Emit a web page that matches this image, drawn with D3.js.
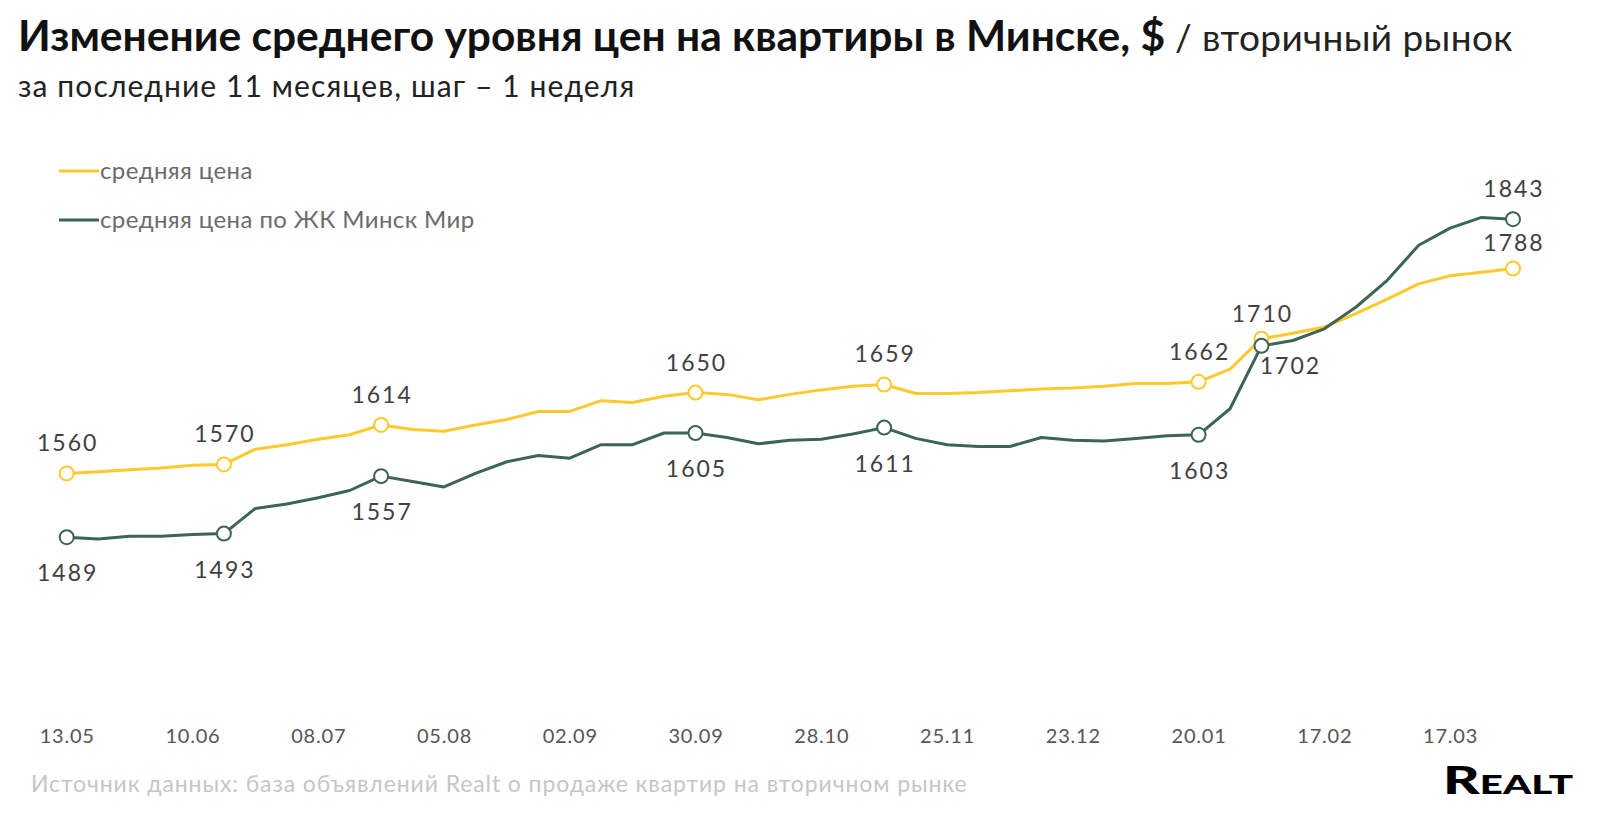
<!DOCTYPE html>
<html>
<head>
<meta charset="utf-8">
<script src="https://cdn.jsdelivr.net/npm/d3@7"></script>
<style>
  body { margin: 0; background: #fff; }
  text { font-family: Lato, "Noto Sans", sans-serif; }
</style>
</head>
<body>
<div id="chart"></div>
<script>
// weekly data, first week starts 13.05
const startDate = new Date(2024, 4, 13);
const weekCount = 47;

const avgPrice = [1560, 1562, 1564, 1566, 1569, 1570, 1587, 1592, 1598, 1603,
  1614, 1609, 1607, 1614, 1620, 1629, 1629, 1641, 1639, 1646,
  1650, 1648, 1642, 1648, 1653, 1657, 1659, 1649, 1649, 1650,
  1652, 1654, 1655, 1657, 1660, 1660, 1662, 1676, 1710, 1716,
  1723, 1738, 1754, 1771, 1780, 1784, 1788];

const minskMir = [1489, 1487, 1490, 1490, 1492, 1493, 1521, 1526, 1533, 1541,
  1557, 1551, 1545, 1560, 1573, 1580, 1577, 1592, 1592, 1605,
  1605, 1600, 1593, 1597, 1598, 1604, 1611, 1599, 1592, 1590,
  1590, 1600, 1597, 1596, 1599, 1602, 1603, 1632, 1702, 1708,
  1721, 1745, 1775, 1814, 1833, 1845, 1843];

// weeks that get a marker + value label
const markedWeeks = [0, 5, 10, 20, 26, 36, 38, 46];

const seriesNames = ["средняя цена", "средняя цена по ЖК Минск Мир"];

const w = 1607;
const h = 817;

const colors = {avg: "#fec92d", mir: "#3c6552"};

const dates = d3.range(weekCount).map(i => d3.timeDay.offset(startDate, 7 * i));

const svg = d3.select("#chart")
  .append("svg")
    .attr("width", w)
    .attr("height", h);

const xScale = d3.scaleTime()
    .domain([dates[0], dates[weekCount - 1]])
    .range([66.7, 1513]);

const yScale = d3.scaleLinear()
    .domain([1300, 1900])
    .range([707, 168]);

// title
const title = svg.append("text")
    .attr("x", 18)
    .attr("y", 51)
    .attr("fill", "#111");
title.append("tspan")
    .attr("font-size", 42.5)
    .attr("font-weight", 700)
    .text("Изменение среднего уровня цен на квартиры в Минске, $");
title.append("tspan")
    .attr("font-size", 37)
    .attr("font-weight", 400)
    .attr("letter-spacing", 0.4)
    .attr("fill", "#222")
    .text(" / вторичный рынок");

svg.append("text")
    .attr("x", 18)
    .attr("y", 97)
    .attr("font-size", 30)
    .attr("letter-spacing", 1.1)
    .attr("fill", "#222")
    .text("за последние 11 месяцев, шаг – 1 неделя");

// legend
const legend = svg.append("g")
  .selectAll("g")
  .data(seriesNames)
  .join("g")
    .attr("transform", (d, i) => `translate(59, ${171 + i * 49})`);

legend.append("line")
    .attr("x1", 0)
    .attr("x2", 40)
    .attr("stroke", (d, i) => i == 0 ? colors.avg : colors.mir)
    .attr("stroke-width", 3);

legend.append("text")
    .attr("x", 41)
    .attr("dy", "0.35em")
    .attr("font-size", 24)
    .attr("letter-spacing", 0.4)
    .attr("fill", "#6b6b6b")
    .text(d => d);

// x axis - labels only
const xAxis = d3.axisBottom(xScale)
    .tickValues(dates.filter((d, i) => i % 4 == 0))
    .tickFormat(d3.timeFormat("%d.%m"))
    .tickSize(0);

const gx = svg.append("g")
    .attr("transform", "translate(0, 726)")
    .call(xAxis);
gx.select(".domain").remove();
gx.selectAll("text")
    .attr("font-size", 20)
    .attr("letter-spacing", 0.8)
    .attr("font-family", "Lato, sans-serif")
    .attr("fill", "#555");

// lines
const line = d3.line()
    .x((d, i) => xScale(dates[i]))
    .y(d => yScale(d));

svg.append("path")
    .datum(avgPrice)
    .attr("fill", "none")
    .attr("stroke", colors.avg)
    .attr("stroke-width", 3)
    .attr("stroke-linejoin", "round")
    .attr("d", line);

svg.append("path")
    .datum(minskMir)
    .attr("fill", "none")
    .attr("stroke", colors.mir)
    .attr("stroke-width", 3)
    .attr("stroke-linejoin", "round")
    .attr("d", line);

// markers
function drawMarkers(values, color) {
  svg.append("g")
    .selectAll("circle")
    .data(markedWeeks)
    .join("circle")
      .attr("cx", i => xScale(dates[i]))
      .attr("cy", i => yScale(values[i]))
      .attr("r", 7)
      .attr("fill", "#fff")
      .attr("stroke", color)
      .attr("stroke-width", 2);
}
drawMarkers(avgPrice, colors.avg);
drawMarkers(minskMir, colors.mir);

// value labels: average above, Minsk Mir below, a few tweaked near the end
function drawLabels(values, above) {
  svg.append("g")
    .selectAll("text")
    .data(markedWeeks)
    .join("text")
      .attr("x", i => {
        let x = xScale(dates[i]) + 1;
        if (!above && i == 38) x += 28;
        return x;
      })
      .attr("y", i => {
        let y = yScale(values[i]);
        if (above) {
          if (i == 38) return y - 17;
          if (i == 46) return y - 18;
          return y - 22;
        }
        if (i == 38) return y + 28;
        if (i == 46) return y - 22;
        return y + 44;
      })
      .attr("text-anchor", "middle")
      .attr("font-size", 23)
      .attr("letter-spacing", 2)
      .attr("fill", "#404040")
      .text(i => values[i]);
}
drawLabels(avgPrice, true);
drawLabels(minskMir, false);

// footer
svg.append("text")
    .attr("x", 31)
    .attr("y", 792)
    .attr("font-size", 23)
    .attr("letter-spacing", 0.9)
    .attr("fill", "#c6c6c6")
    .text("Источник данных: база объявлений Realt о продаже квартир на вторичном рынке");

svg.append("text")
    .attr("x", 1443)
    .attr("y", 794)
    .attr("font-size", 38)
    .attr("font-weight", 900)
    .attr("font-variant", "small-caps")
    .attr("textLength", 130)
    .attr("lengthAdjust", "spacingAndGlyphs")
    .attr("fill", "#000")
    .text("Realt");
</script>
</body>
</html>
